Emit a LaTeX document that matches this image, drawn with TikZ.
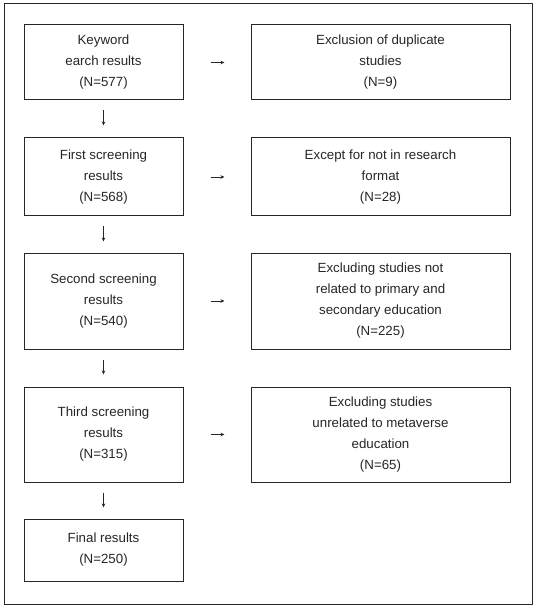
\documentclass[tikz,border=0pt]{standalone}
\usepackage{fontspec}
\setmainfont{Liberation Sans}
\usetikzlibrary{arrows.meta}
\begin{document}
\begin{tikzpicture}[x=1pt,y=-1pt,
  box/.style={draw=black!85,line width=1pt,inner sep=0pt,align=center,
    font=\fontsize{13.3}{21}\selectfont,text=black!85},
  arr/.style={draw=black!85,line width=0.9pt,-{Stealth[length=4pt,width=3.5pt]}}]
\useasboundingbox (0,0) rectangle (536,609);
\draw[line width=1pt,black!85] (4,4) rectangle (532,604);
% left column
\node[box,minimum width=159pt,minimum height=75pt] (l1) at (103.5,62.5) {Keyword\\earch results\\(N=577)};
\node[box,minimum width=159pt,minimum height=78pt] (l2) at (103.5,177) {First screening\\results\\(N=568)};
\node[box,minimum width=159pt,minimum height=96pt] (l3) at (103.5,301) {Second screening\\results\\(N=540)};
\node[box,minimum width=159pt,minimum height=95pt] (l4) at (103.5,434.5) {Third screening\\results\\(N=315)};
\node[box,minimum width=159pt,minimum height=62pt] (l5) at (103.5,550) {Final results\\(N=250)};
% right column
\node[box,minimum width=259pt,minimum height=75pt] (r1) at (380.5,62.5) {Exclusion of duplicate\\studies\\(N=9)};
\node[box,minimum width=259pt,minimum height=78pt] (r2) at (380.5,177) {Except for not in research\\format\\(N=28)};
\node[box,minimum width=259pt,minimum height=96pt] (r3) at (380.5,301) {Excluding studies not\\related to primary and\\secondary education\\(N=225)};
\node[box,minimum width=259pt,minimum height=95pt] (r4) at (380.5,434.5) {Excluding studies\\unrelated to metaverse\\education\\(N=65)};
% horizontal arrows
\foreach \i in {1,2,3,4}{
  \coordinate (h\i a) at ([xshift=27pt]l\i.east);
  \coordinate (h\i b) at ([xshift=41pt]l\i.east);
  \draw[arr] (h\i a) -- (h\i b);
}
% vertical arrows
\foreach \i/\j in {1/2,2/3,3/4,4/5}{
  \coordinate (v\i a) at ([yshift=-10pt]l\i.south);
  \coordinate (v\i b) at ([yshift=-25pt]l\i.south);
  \draw[arr] (v\i a) -- (v\i b);
}
\end{tikzpicture}
\end{document}
